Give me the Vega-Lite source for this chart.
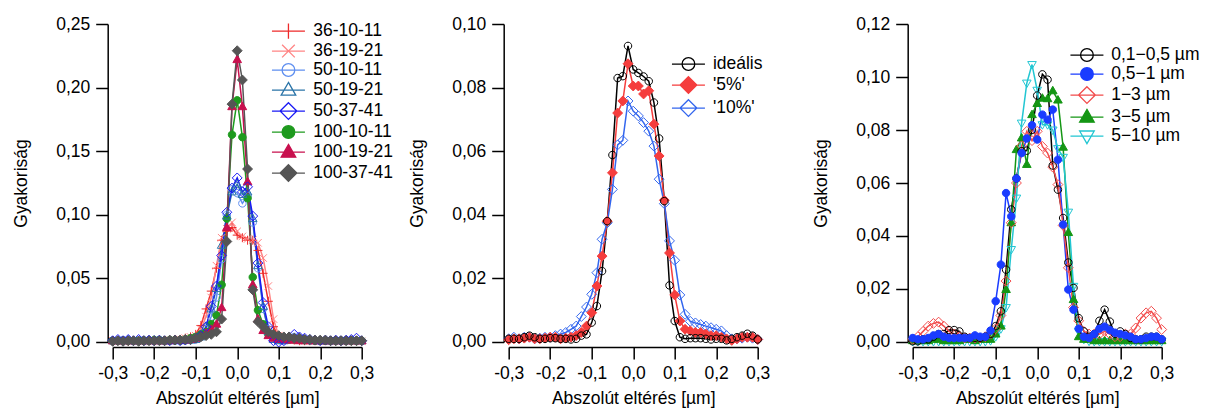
{
"$schema":"https://vega.github.io/schema/vega-lite/v6.json",
"padding":{"left":11.7,"top":15,"right":4,"bottom":2},
"config":{
 "font":"Liberation Sans",
 "view":{"stroke":null},
 "axis":{"grid":false,"domainColor":"#000","domainWidth":1.5,"tickColor":"#000","tickWidth":1.5,"tickSize":12,"labelColor":"#000","labelFontSize":17.5,"labelFont":"Liberation Sans","titleFont":"Liberation Sans","titleFontSize":17.5,"titleFontWeight":"normal","titleColor":"#000","offset":5,"labelFlush":false,"labelOverlap":false},
 "axisX":{"labelPadding":6,"titlePadding":7},
 "axisY":{"labelPadding":6,"titlePadding":25.3},
 "legend":{"labelFont":"Liberation Sans","labelFontSize":17.5,"labelColor":"#000","padding":0,"rowPadding":0,"symbolSize":161,"symbolStrokeWidth":1.3,"symbolOpacity":1}
},
"datasets":{
"p1":[
{"s":"36-10-11","x":-0.3,"y":0.0005},{"s":"36-10-11","x":-0.2875,"y":0.001},{"s":"36-10-11","x":-0.275,"y":0.001},{"s":"36-10-11","x":-0.2625,"y":0.0005},{"s":"36-10-11","x":-0.25,"y":0.001},{"s":"36-10-11","x":-0.2375,"y":0.001},{"s":"36-10-11","x":-0.225,"y":0.001},{"s":"36-10-11","x":-0.2125,"y":0.001},{"s":"36-10-11","x":-0.2,"y":0.001},{"s":"36-10-11","x":-0.1875,"y":0.0015},{"s":"36-10-11","x":-0.175,"y":0.001},{"s":"36-10-11","x":-0.1625,"y":0.0015},{"s":"36-10-11","x":-0.15,"y":0.002},{"s":"36-10-11","x":-0.1375,"y":0.002},{"s":"36-10-11","x":-0.125,"y":0.003},{"s":"36-10-11","x":-0.1125,"y":0.004},{"s":"36-10-11","x":-0.1,"y":0.006},{"s":"36-10-11","x":-0.0875,"y":0.013},{"s":"36-10-11","x":-0.075,"y":0.026},{"s":"36-10-11","x":-0.0625,"y":0.04},{"s":"36-10-11","x":-0.05,"y":0.058},{"s":"36-10-11","x":-0.0375,"y":0.08},{"s":"36-10-11","x":-0.025,"y":0.087},{"s":"36-10-11","x":-0.0125,"y":0.09},{"s":"36-10-11","x":0,"y":0.084},{"s":"36-10-11","x":0.0125,"y":0.082},{"s":"36-10-11","x":0.025,"y":0.08},{"s":"36-10-11","x":0.0375,"y":0.08},{"s":"36-10-11","x":0.05,"y":0.072},{"s":"36-10-11","x":0.0625,"y":0.054},{"s":"36-10-11","x":0.075,"y":0.032},{"s":"36-10-11","x":0.0875,"y":0.012},{"s":"36-10-11","x":0.1,"y":0.004},{"s":"36-10-11","x":0.1125,"y":0.002},{"s":"36-10-11","x":0.125,"y":0.002},{"s":"36-10-11","x":0.1375,"y":0.0015},{"s":"36-10-11","x":0.15,"y":0.001},{"s":"36-10-11","x":0.1625,"y":0.001},{"s":"36-10-11","x":0.175,"y":0.001},{"s":"36-10-11","x":0.1875,"y":0.001},{"s":"36-10-11","x":0.2,"y":0.001},{"s":"36-10-11","x":0.2125,"y":0.001},{"s":"36-10-11","x":0.225,"y":0.001},{"s":"36-10-11","x":0.2375,"y":0.001},{"s":"36-10-11","x":0.25,"y":0.001},{"s":"36-10-11","x":0.2625,"y":0.001},{"s":"36-10-11","x":0.275,"y":0.001},{"s":"36-10-11","x":0.2875,"y":0.001},{"s":"36-10-11","x":0.3,"y":0.0005},
{"s":"36-19-21","x":-0.3,"y":0.001},{"s":"36-19-21","x":-0.2875,"y":0.0005},{"s":"36-19-21","x":-0.275,"y":0.001},{"s":"36-19-21","x":-0.2625,"y":0.001},{"s":"36-19-21","x":-0.25,"y":0.0015},{"s":"36-19-21","x":-0.2375,"y":0.001},{"s":"36-19-21","x":-0.225,"y":0.001},{"s":"36-19-21","x":-0.2125,"y":0.001},{"s":"36-19-21","x":-0.2,"y":0.0015},{"s":"36-19-21","x":-0.1875,"y":0.001},{"s":"36-19-21","x":-0.175,"y":0.001},{"s":"36-19-21","x":-0.1625,"y":0.0015},{"s":"36-19-21","x":-0.15,"y":0.0015},{"s":"36-19-21","x":-0.1375,"y":0.002},{"s":"36-19-21","x":-0.125,"y":0.003},{"s":"36-19-21","x":-0.1125,"y":0.004},{"s":"36-19-21","x":-0.1,"y":0.005},{"s":"36-19-21","x":-0.0875,"y":0.01},{"s":"36-19-21","x":-0.075,"y":0.02},{"s":"36-19-21","x":-0.0625,"y":0.035},{"s":"36-19-21","x":-0.05,"y":0.06},{"s":"36-19-21","x":-0.0375,"y":0.082},{"s":"36-19-21","x":-0.025,"y":0.089},{"s":"36-19-21","x":-0.0125,"y":0.094},{"s":"36-19-21","x":0,"y":0.087},{"s":"36-19-21","x":0.0125,"y":0.083},{"s":"36-19-21","x":0.025,"y":0.081},{"s":"36-19-21","x":0.0375,"y":0.08},{"s":"36-19-21","x":0.05,"y":0.078},{"s":"36-19-21","x":0.0625,"y":0.066},{"s":"36-19-21","x":0.075,"y":0.044},{"s":"36-19-21","x":0.0875,"y":0.018},{"s":"36-19-21","x":0.1,"y":0.005},{"s":"36-19-21","x":0.1125,"y":0.003},{"s":"36-19-21","x":0.125,"y":0.002},{"s":"36-19-21","x":0.1375,"y":0.0015},{"s":"36-19-21","x":0.15,"y":0.0015},{"s":"36-19-21","x":0.1625,"y":0.001},{"s":"36-19-21","x":0.175,"y":0.001},{"s":"36-19-21","x":0.1875,"y":0.001},{"s":"36-19-21","x":0.2,"y":0.001},{"s":"36-19-21","x":0.2125,"y":0.001},{"s":"36-19-21","x":0.225,"y":0.001},{"s":"36-19-21","x":0.2375,"y":0.001},{"s":"36-19-21","x":0.25,"y":0.001},{"s":"36-19-21","x":0.2625,"y":0.001},{"s":"36-19-21","x":0.275,"y":0.001},{"s":"36-19-21","x":0.2875,"y":0.001},{"s":"36-19-21","x":0.3,"y":0.0005},
{"s":"50-10-11","x":-0.3,"y":0.001},{"s":"50-10-11","x":-0.2875,"y":0.001},{"s":"50-10-11","x":-0.275,"y":0.0015},{"s":"50-10-11","x":-0.2625,"y":0.001},{"s":"50-10-11","x":-0.25,"y":0.001},{"s":"50-10-11","x":-0.2375,"y":0.001},{"s":"50-10-11","x":-0.225,"y":0.0015},{"s":"50-10-11","x":-0.2125,"y":0.001},{"s":"50-10-11","x":-0.2,"y":0.001},{"s":"50-10-11","x":-0.1875,"y":0.001},{"s":"50-10-11","x":-0.175,"y":0.001},{"s":"50-10-11","x":-0.1625,"y":0.001},{"s":"50-10-11","x":-0.15,"y":0.001},{"s":"50-10-11","x":-0.1375,"y":0.0015},{"s":"50-10-11","x":-0.125,"y":0.0015},{"s":"50-10-11","x":-0.1125,"y":0.0015},{"s":"50-10-11","x":-0.1,"y":0.002},{"s":"50-10-11","x":-0.0875,"y":0.004},{"s":"50-10-11","x":-0.075,"y":0.01},{"s":"50-10-11","x":-0.0625,"y":0.02},{"s":"50-10-11","x":-0.05,"y":0.035},{"s":"50-10-11","x":-0.0375,"y":0.065},{"s":"50-10-11","x":-0.025,"y":0.1},{"s":"50-10-11","x":-0.0125,"y":0.12},{"s":"50-10-11","x":0,"y":0.117},{"s":"50-10-11","x":0.0125,"y":0.109},{"s":"50-10-11","x":0.025,"y":0.115},{"s":"50-10-11","x":0.0375,"y":0.094},{"s":"50-10-11","x":0.05,"y":0.058},{"s":"50-10-11","x":0.0625,"y":0.026},{"s":"50-10-11","x":0.075,"y":0.01},{"s":"50-10-11","x":0.0875,"y":0.003},{"s":"50-10-11","x":0.1,"y":0.002},{"s":"50-10-11","x":0.1125,"y":0.0015},{"s":"50-10-11","x":0.125,"y":0.002},{"s":"50-10-11","x":0.1375,"y":0.004},{"s":"50-10-11","x":0.15,"y":0.003},{"s":"50-10-11","x":0.1625,"y":0.002},{"s":"50-10-11","x":0.175,"y":0.0015},{"s":"50-10-11","x":0.1875,"y":0.001},{"s":"50-10-11","x":0.2,"y":0.001},{"s":"50-10-11","x":0.2125,"y":0.001},{"s":"50-10-11","x":0.225,"y":0.001},{"s":"50-10-11","x":0.2375,"y":0.001},{"s":"50-10-11","x":0.25,"y":0.001},{"s":"50-10-11","x":0.2625,"y":0.001},{"s":"50-10-11","x":0.275,"y":0.0015},{"s":"50-10-11","x":0.2875,"y":0.001},{"s":"50-10-11","x":0.3,"y":0.001},
{"s":"50-19-21","x":-0.3,"y":0.001},{"s":"50-19-21","x":-0.2875,"y":0.001},{"s":"50-19-21","x":-0.275,"y":0.001},{"s":"50-19-21","x":-0.2625,"y":0.0015},{"s":"50-19-21","x":-0.25,"y":0.001},{"s":"50-19-21","x":-0.2375,"y":0.001},{"s":"50-19-21","x":-0.225,"y":0.001},{"s":"50-19-21","x":-0.2125,"y":0.001},{"s":"50-19-21","x":-0.2,"y":0.0015},{"s":"50-19-21","x":-0.1875,"y":0.001},{"s":"50-19-21","x":-0.175,"y":0.001},{"s":"50-19-21","x":-0.1625,"y":0.001},{"s":"50-19-21","x":-0.15,"y":0.0015},{"s":"50-19-21","x":-0.1375,"y":0.001},{"s":"50-19-21","x":-0.125,"y":0.0015},{"s":"50-19-21","x":-0.1125,"y":0.0015},{"s":"50-19-21","x":-0.1,"y":0.002},{"s":"50-19-21","x":-0.0875,"y":0.004},{"s":"50-19-21","x":-0.075,"y":0.012},{"s":"50-19-21","x":-0.0625,"y":0.026},{"s":"50-19-21","x":-0.05,"y":0.042},{"s":"50-19-21","x":-0.0375,"y":0.076},{"s":"50-19-21","x":-0.025,"y":0.099},{"s":"50-19-21","x":-0.0125,"y":0.118},{"s":"50-19-21","x":0,"y":0.124},{"s":"50-19-21","x":0.0125,"y":0.116},{"s":"50-19-21","x":0.025,"y":0.118},{"s":"50-19-21","x":0.0375,"y":0.097},{"s":"50-19-21","x":0.05,"y":0.06},{"s":"50-19-21","x":0.0625,"y":0.028},{"s":"50-19-21","x":0.075,"y":0.008},{"s":"50-19-21","x":0.0875,"y":0.002},{"s":"50-19-21","x":0.1,"y":0.001},{"s":"50-19-21","x":0.1125,"y":0.001},{"s":"50-19-21","x":0.125,"y":0.002},{"s":"50-19-21","x":0.1375,"y":0.003},{"s":"50-19-21","x":0.15,"y":0.003},{"s":"50-19-21","x":0.1625,"y":0.002},{"s":"50-19-21","x":0.175,"y":0.0015},{"s":"50-19-21","x":0.1875,"y":0.001},{"s":"50-19-21","x":0.2,"y":0.001},{"s":"50-19-21","x":0.2125,"y":0.001},{"s":"50-19-21","x":0.225,"y":0.001},{"s":"50-19-21","x":0.2375,"y":0.001},{"s":"50-19-21","x":0.25,"y":0.001},{"s":"50-19-21","x":0.2625,"y":0.001},{"s":"50-19-21","x":0.275,"y":0.001},{"s":"50-19-21","x":0.2875,"y":0.001},{"s":"50-19-21","x":0.3,"y":0.001},
{"s":"50-37-41","x":-0.3,"y":0.001},{"s":"50-37-41","x":-0.2875,"y":0.002},{"s":"50-37-41","x":-0.275,"y":0.001},{"s":"50-37-41","x":-0.2625,"y":0.002},{"s":"50-37-41","x":-0.25,"y":0.001},{"s":"50-37-41","x":-0.2375,"y":0.002},{"s":"50-37-41","x":-0.225,"y":0.001},{"s":"50-37-41","x":-0.2125,"y":0.0015},{"s":"50-37-41","x":-0.2,"y":0.001},{"s":"50-37-41","x":-0.1875,"y":0.0015},{"s":"50-37-41","x":-0.175,"y":0.001},{"s":"50-37-41","x":-0.1625,"y":0.001},{"s":"50-37-41","x":-0.15,"y":0.0015},{"s":"50-37-41","x":-0.1375,"y":0.001},{"s":"50-37-41","x":-0.125,"y":0.0015},{"s":"50-37-41","x":-0.1125,"y":0.002},{"s":"50-37-41","x":-0.1,"y":0.003},{"s":"50-37-41","x":-0.0875,"y":0.005},{"s":"50-37-41","x":-0.075,"y":0.012},{"s":"50-37-41","x":-0.0625,"y":0.028},{"s":"50-37-41","x":-0.05,"y":0.044},{"s":"50-37-41","x":-0.0375,"y":0.068},{"s":"50-37-41","x":-0.025,"y":0.102},{"s":"50-37-41","x":-0.0125,"y":0.121},{"s":"50-37-41","x":0,"y":0.129},{"s":"50-37-41","x":0.0125,"y":0.118},{"s":"50-37-41","x":0.025,"y":0.122},{"s":"50-37-41","x":0.0375,"y":0.099},{"s":"50-37-41","x":0.05,"y":0.062},{"s":"50-37-41","x":0.0625,"y":0.031},{"s":"50-37-41","x":0.075,"y":0.012},{"s":"50-37-41","x":0.0875,"y":0.001},{"s":"50-37-41","x":0.1,"y":0},{"s":"50-37-41","x":0.1125,"y":0.001},{"s":"50-37-41","x":0.125,"y":0.004},{"s":"50-37-41","x":0.1375,"y":0.006},{"s":"50-37-41","x":0.15,"y":0.004},{"s":"50-37-41","x":0.1625,"y":0.003},{"s":"50-37-41","x":0.175,"y":0.002},{"s":"50-37-41","x":0.1875,"y":0.0015},{"s":"50-37-41","x":0.2,"y":0.001},{"s":"50-37-41","x":0.2125,"y":0.0015},{"s":"50-37-41","x":0.225,"y":0.001},{"s":"50-37-41","x":0.2375,"y":0.0015},{"s":"50-37-41","x":0.25,"y":0.001},{"s":"50-37-41","x":0.2625,"y":0.0015},{"s":"50-37-41","x":0.275,"y":0.002},{"s":"50-37-41","x":0.2875,"y":0.003},{"s":"50-37-41","x":0.3,"y":0.001},
{"s":"100-10-11","x":-0.3,"y":0.001},{"s":"100-10-11","x":-0.2875,"y":0.001},{"s":"100-10-11","x":-0.275,"y":0.001},{"s":"100-10-11","x":-0.2625,"y":0.001},{"s":"100-10-11","x":-0.25,"y":0.001},{"s":"100-10-11","x":-0.2375,"y":0.001},{"s":"100-10-11","x":-0.225,"y":0.001},{"s":"100-10-11","x":-0.2125,"y":0.001},{"s":"100-10-11","x":-0.2,"y":0.0015},{"s":"100-10-11","x":-0.1875,"y":0.0015},{"s":"100-10-11","x":-0.175,"y":0.001},{"s":"100-10-11","x":-0.1625,"y":0.0015},{"s":"100-10-11","x":-0.15,"y":0.0015},{"s":"100-10-11","x":-0.1375,"y":0.0015},{"s":"100-10-11","x":-0.125,"y":0.002},{"s":"100-10-11","x":-0.1125,"y":0.003},{"s":"100-10-11","x":-0.1,"y":0.004},{"s":"100-10-11","x":-0.0875,"y":0.006},{"s":"100-10-11","x":-0.075,"y":0.008},{"s":"100-10-11","x":-0.0625,"y":0.014},{"s":"100-10-11","x":-0.05,"y":0.021},{"s":"100-10-11","x":-0.0375,"y":0.045},{"s":"100-10-11","x":-0.025,"y":0.097},{"s":"100-10-11","x":-0.0125,"y":0.163},{"s":"100-10-11","x":0,"y":0.19},{"s":"100-10-11","x":0.0125,"y":0.161},{"s":"100-10-11","x":0.025,"y":0.113},{"s":"100-10-11","x":0.0375,"y":0.051},{"s":"100-10-11","x":0.05,"y":0.025},{"s":"100-10-11","x":0.0625,"y":0.014},{"s":"100-10-11","x":0.075,"y":0.006},{"s":"100-10-11","x":0.0875,"y":0.004},{"s":"100-10-11","x":0.1,"y":0.004},{"s":"100-10-11","x":0.1125,"y":0.003},{"s":"100-10-11","x":0.125,"y":0.002},{"s":"100-10-11","x":0.1375,"y":0.002},{"s":"100-10-11","x":0.15,"y":0.002},{"s":"100-10-11","x":0.1625,"y":0.0015},{"s":"100-10-11","x":0.175,"y":0.0015},{"s":"100-10-11","x":0.1875,"y":0.001},{"s":"100-10-11","x":0.2,"y":0.001},{"s":"100-10-11","x":0.2125,"y":0.001},{"s":"100-10-11","x":0.225,"y":0.001},{"s":"100-10-11","x":0.2375,"y":0.001},{"s":"100-10-11","x":0.25,"y":0.001},{"s":"100-10-11","x":0.2625,"y":0.001},{"s":"100-10-11","x":0.275,"y":0.001},{"s":"100-10-11","x":0.2875,"y":0.001},{"s":"100-10-11","x":0.3,"y":0.001},
{"s":"100-19-21","x":-0.3,"y":0.001},{"s":"100-19-21","x":-0.2875,"y":0.001},{"s":"100-19-21","x":-0.275,"y":0.001},{"s":"100-19-21","x":-0.2625,"y":0.001},{"s":"100-19-21","x":-0.25,"y":0.001},{"s":"100-19-21","x":-0.2375,"y":0.001},{"s":"100-19-21","x":-0.225,"y":0.001},{"s":"100-19-21","x":-0.2125,"y":0.001},{"s":"100-19-21","x":-0.2,"y":0.001},{"s":"100-19-21","x":-0.1875,"y":0.001},{"s":"100-19-21","x":-0.175,"y":0.001},{"s":"100-19-21","x":-0.1625,"y":0.001},{"s":"100-19-21","x":-0.15,"y":0.0015},{"s":"100-19-21","x":-0.1375,"y":0.0015},{"s":"100-19-21","x":-0.125,"y":0.0015},{"s":"100-19-21","x":-0.1125,"y":0.002},{"s":"100-19-21","x":-0.1,"y":0.003},{"s":"100-19-21","x":-0.0875,"y":0.005},{"s":"100-19-21","x":-0.075,"y":0.007},{"s":"100-19-21","x":-0.0625,"y":0.01},{"s":"100-19-21","x":-0.05,"y":0.014},{"s":"100-19-21","x":-0.0375,"y":0.027},{"s":"100-19-21","x":-0.025,"y":0.09},{"s":"100-19-21","x":-0.0125,"y":0.185},{"s":"100-19-21","x":0,"y":0.222},{"s":"100-19-21","x":0.0125,"y":0.185},{"s":"100-19-21","x":0.025,"y":0.126},{"s":"100-19-21","x":0.0375,"y":0.045},{"s":"100-19-21","x":0.05,"y":0.018},{"s":"100-19-21","x":0.0625,"y":0.009},{"s":"100-19-21","x":0.075,"y":0.005},{"s":"100-19-21","x":0.0875,"y":0.003},{"s":"100-19-21","x":0.1,"y":0.002},{"s":"100-19-21","x":0.1125,"y":0.002},{"s":"100-19-21","x":0.125,"y":0.0015},{"s":"100-19-21","x":0.1375,"y":0.0015},{"s":"100-19-21","x":0.15,"y":0.001},{"s":"100-19-21","x":0.1625,"y":0.001},{"s":"100-19-21","x":0.175,"y":0.001},{"s":"100-19-21","x":0.1875,"y":0.001},{"s":"100-19-21","x":0.2,"y":0.001},{"s":"100-19-21","x":0.2125,"y":0.001},{"s":"100-19-21","x":0.225,"y":0.001},{"s":"100-19-21","x":0.2375,"y":0.001},{"s":"100-19-21","x":0.25,"y":0.001},{"s":"100-19-21","x":0.2625,"y":0.001},{"s":"100-19-21","x":0.275,"y":0.001},{"s":"100-19-21","x":0.2875,"y":0.001},{"s":"100-19-21","x":0.3,"y":0.001},
{"s":"100-37-41","x":-0.3,"y":0.0005},{"s":"100-37-41","x":-0.2875,"y":0.001},{"s":"100-37-41","x":-0.275,"y":0.0005},{"s":"100-37-41","x":-0.2625,"y":0.001},{"s":"100-37-41","x":-0.25,"y":0.001},{"s":"100-37-41","x":-0.2375,"y":0.0005},{"s":"100-37-41","x":-0.225,"y":0.001},{"s":"100-37-41","x":-0.2125,"y":0.001},{"s":"100-37-41","x":-0.2,"y":0.001},{"s":"100-37-41","x":-0.1875,"y":0.001},{"s":"100-37-41","x":-0.175,"y":0.001},{"s":"100-37-41","x":-0.1625,"y":0.0015},{"s":"100-37-41","x":-0.15,"y":0.0015},{"s":"100-37-41","x":-0.1375,"y":0.0015},{"s":"100-37-41","x":-0.125,"y":0.002},{"s":"100-37-41","x":-0.1125,"y":0.002},{"s":"100-37-41","x":-0.1,"y":0.003},{"s":"100-37-41","x":-0.0875,"y":0.004},{"s":"100-37-41","x":-0.075,"y":0.005},{"s":"100-37-41","x":-0.0625,"y":0.006},{"s":"100-37-41","x":-0.05,"y":0.008},{"s":"100-37-41","x":-0.0375,"y":0.018},{"s":"100-37-41","x":-0.025,"y":0.079},{"s":"100-37-41","x":-0.0125,"y":0.187},{"s":"100-37-41","x":0,"y":0.229},{"s":"100-37-41","x":0.0125,"y":0.206},{"s":"100-37-41","x":0.025,"y":0.136},{"s":"100-37-41","x":0.0375,"y":0.041},{"s":"100-37-41","x":0.05,"y":0.016},{"s":"100-37-41","x":0.0625,"y":0.012},{"s":"100-37-41","x":0.075,"y":0.008},{"s":"100-37-41","x":0.0875,"y":0.006},{"s":"100-37-41","x":0.1,"y":0.005},{"s":"100-37-41","x":0.1125,"y":0.004},{"s":"100-37-41","x":0.125,"y":0.004},{"s":"100-37-41","x":0.1375,"y":0.003},{"s":"100-37-41","x":0.15,"y":0.003},{"s":"100-37-41","x":0.1625,"y":0.002},{"s":"100-37-41","x":0.175,"y":0.002},{"s":"100-37-41","x":0.1875,"y":0.0015},{"s":"100-37-41","x":0.2,"y":0.0015},{"s":"100-37-41","x":0.2125,"y":0.0015},{"s":"100-37-41","x":0.225,"y":0.001},{"s":"100-37-41","x":0.2375,"y":0.001},{"s":"100-37-41","x":0.25,"y":0.001},{"s":"100-37-41","x":0.2625,"y":0.001},{"s":"100-37-41","x":0.275,"y":0.001},{"s":"100-37-41","x":0.2875,"y":0.001},{"s":"100-37-41","x":0.3,"y":0.001}
],
"p2":[
{"s":"ideális","x":-0.3,"y":0.001},{"s":"ideális","x":-0.2875,"y":0.001},{"s":"ideális","x":-0.275,"y":0.001},{"s":"ideális","x":-0.2625,"y":0.0015},{"s":"ideális","x":-0.25,"y":0.002},{"s":"ideális","x":-0.2375,"y":0.0015},{"s":"ideális","x":-0.225,"y":0.001},{"s":"ideális","x":-0.2125,"y":0.001},{"s":"ideális","x":-0.2,"y":0.0012},{"s":"ideális","x":-0.1875,"y":0.0012},{"s":"ideális","x":-0.175,"y":0.001},{"s":"ideális","x":-0.1625,"y":0.001},{"s":"ideális","x":-0.15,"y":0.0008},{"s":"ideális","x":-0.1375,"y":0.001},{"s":"ideális","x":-0.125,"y":0.002},{"s":"ideális","x":-0.1125,"y":0.0024},{"s":"ideális","x":-0.1,"y":0.0061},{"s":"ideális","x":-0.0875,"y":0.0113},{"s":"ideális","x":-0.075,"y":0.0223},{"s":"ideális","x":-0.0625,"y":0.038},{"s":"ideális","x":-0.05,"y":0.0588},{"s":"ideális","x":-0.0375,"y":0.083},{"s":"ideális","x":-0.025,"y":0.0836},{"s":"ideális","x":-0.0125,"y":0.0931},{"s":"ideális","x":0,"y":0.0857},{"s":"ideális","x":0.0125,"y":0.0846},{"s":"ideális","x":0.025,"y":0.0835},{"s":"ideális","x":0.0375,"y":0.082},{"s":"ideális","x":0.05,"y":0.0753},{"s":"ideális","x":0.0625,"y":0.064},{"s":"ideális","x":0.075,"y":0.0443},{"s":"ideális","x":0.0875,"y":0.0178},{"s":"ideális","x":0.1,"y":0.0066},{"s":"ideális","x":0.1125,"y":0.0015},{"s":"ideális","x":0.125,"y":0.001},{"s":"ideális","x":0.1375,"y":0.0012},{"s":"ideális","x":0.15,"y":0.0012},{"s":"ideális","x":0.1625,"y":0.0012},{"s":"ideális","x":0.175,"y":0.001},{"s":"ideális","x":0.1875,"y":0.0008},{"s":"ideális","x":0.2,"y":0.001},{"s":"ideális","x":0.2125,"y":0.001},{"s":"ideális","x":0.225,"y":0.0005},{"s":"ideális","x":0.2375,"y":0.001},{"s":"ideális","x":0.25,"y":0.0015},{"s":"ideális","x":0.2625,"y":0.002},{"s":"ideális","x":0.275,"y":0.0026},{"s":"ideális","x":0.2875,"y":0.002},{"s":"ideális","x":0.3,"y":0.0008},
{"s":"'5%'","x":-0.3,"y":0.0007},{"s":"'5%'","x":-0.2875,"y":0.001},{"s":"'5%'","x":-0.275,"y":0.001},{"s":"'5%'","x":-0.2625,"y":0.0012},{"s":"'5%'","x":-0.25,"y":0.0015},{"s":"'5%'","x":-0.2375,"y":0.001},{"s":"'5%'","x":-0.225,"y":0.001},{"s":"'5%'","x":-0.2125,"y":0.0012},{"s":"'5%'","x":-0.2,"y":0.0015},{"s":"'5%'","x":-0.1875,"y":0.0015},{"s":"'5%'","x":-0.175,"y":0.001},{"s":"'5%'","x":-0.1625,"y":0.0012},{"s":"'5%'","x":-0.15,"y":0.0015},{"s":"'5%'","x":-0.1375,"y":0.002},{"s":"'5%'","x":-0.125,"y":0.003},{"s":"'5%'","x":-0.1125,"y":0.005},{"s":"'5%'","x":-0.1,"y":0.0092},{"s":"'5%'","x":-0.0875,"y":0.0176},{"s":"'5%'","x":-0.075,"y":0.027},{"s":"'5%'","x":-0.0625,"y":0.038},{"s":"'5%'","x":-0.05,"y":0.0532},{"s":"'5%'","x":-0.0375,"y":0.072},{"s":"'5%'","x":-0.025,"y":0.0758},{"s":"'5%'","x":-0.0125,"y":0.0875},{"s":"'5%'","x":0,"y":0.0805},{"s":"'5%'","x":0.0125,"y":0.0805},{"s":"'5%'","x":0.025,"y":0.078},{"s":"'5%'","x":0.0375,"y":0.079},{"s":"'5%'","x":0.05,"y":0.0685},{"s":"'5%'","x":0.0625,"y":0.0585},{"s":"'5%'","x":0.075,"y":0.0446},{"s":"'5%'","x":0.0875,"y":0.028},{"s":"'5%'","x":0.1,"y":0.0148},{"s":"'5%'","x":0.1125,"y":0.0066},{"s":"'5%'","x":0.125,"y":0.004},{"s":"'5%'","x":0.1375,"y":0.0035},{"s":"'5%'","x":0.15,"y":0.003},{"s":"'5%'","x":0.1625,"y":0.003},{"s":"'5%'","x":0.175,"y":0.0025},{"s":"'5%'","x":0.1875,"y":0.002},{"s":"'5%'","x":0.2,"y":0.002},{"s":"'5%'","x":0.2125,"y":0.0015},{"s":"'5%'","x":0.225,"y":0.001},{"s":"'5%'","x":0.2375,"y":0.0005},{"s":"'5%'","x":0.25,"y":0.001},{"s":"'5%'","x":0.2625,"y":0.0015},{"s":"'5%'","x":0.275,"y":0.0015},{"s":"'5%'","x":0.2875,"y":0.0015},{"s":"'5%'","x":0.3,"y":0.0008},
{"s":"'10%'","x":-0.3,"y":0.001},{"s":"'10%'","x":-0.2875,"y":0.0015},{"s":"'10%'","x":-0.275,"y":0.001},{"s":"'10%'","x":-0.2625,"y":0.0015},{"s":"'10%'","x":-0.25,"y":0.0015},{"s":"'10%'","x":-0.2375,"y":0.001},{"s":"'10%'","x":-0.225,"y":0.0012},{"s":"'10%'","x":-0.2125,"y":0.0015},{"s":"'10%'","x":-0.2,"y":0.0015},{"s":"'10%'","x":-0.1875,"y":0.002},{"s":"'10%'","x":-0.175,"y":0.0025},{"s":"'10%'","x":-0.1625,"y":0.003},{"s":"'10%'","x":-0.15,"y":0.004},{"s":"'10%'","x":-0.1375,"y":0.005},{"s":"'10%'","x":-0.125,"y":0.008},{"s":"'10%'","x":-0.1125,"y":0.011},{"s":"'10%'","x":-0.1,"y":0.015},{"s":"'10%'","x":-0.0875,"y":0.0218},{"s":"'10%'","x":-0.075,"y":0.0323},{"s":"'10%'","x":-0.0625,"y":0.0375},{"s":"'10%'","x":-0.05,"y":0.048},{"s":"'10%'","x":-0.0375,"y":0.062},{"s":"'10%'","x":-0.025,"y":0.0634},{"s":"'10%'","x":-0.0125,"y":0.0758},{"s":"'10%'","x":0,"y":0.0726},{"s":"'10%'","x":0.0125,"y":0.0711},{"s":"'10%'","x":0.025,"y":0.069},{"s":"'10%'","x":0.0375,"y":0.0663},{"s":"'10%'","x":0.05,"y":0.0616},{"s":"'10%'","x":0.0625,"y":0.0512},{"s":"'10%'","x":0.075,"y":0.0435},{"s":"'10%'","x":0.0875,"y":0.0318},{"s":"'10%'","x":0.1,"y":0.0257},{"s":"'10%'","x":0.1125,"y":0.0148},{"s":"'10%'","x":0.125,"y":0.0087},{"s":"'10%'","x":0.1375,"y":0.0065},{"s":"'10%'","x":0.15,"y":0.006},{"s":"'10%'","x":0.1625,"y":0.0055},{"s":"'10%'","x":0.175,"y":0.005},{"s":"'10%'","x":0.1875,"y":0.0045},{"s":"'10%'","x":0.2,"y":0.004},{"s":"'10%'","x":0.2125,"y":0.0035},{"s":"'10%'","x":0.225,"y":0.002},{"s":"'10%'","x":0.2375,"y":0.001},{"s":"'10%'","x":0.25,"y":0.001},{"s":"'10%'","x":0.2625,"y":0.0012},{"s":"'10%'","x":0.275,"y":0.0015},{"s":"'10%'","x":0.2875,"y":0.0012},{"s":"'10%'","x":0.3,"y":0.0008}
],
"p3":[
{"s":"0,1−0,5 µm","x":-0.3,"y":0.0003},{"s":"0,1−0,5 µm","x":-0.2875,"y":0.0003},{"s":"0,1−0,5 µm","x":-0.275,"y":0.001},{"s":"0,1−0,5 µm","x":-0.2625,"y":0.001},{"s":"0,1−0,5 µm","x":-0.25,"y":0.002},{"s":"0,1−0,5 µm","x":-0.2375,"y":0.003},{"s":"0,1−0,5 µm","x":-0.225,"y":0.003},{"s":"0,1−0,5 µm","x":-0.2125,"y":0.0045},{"s":"0,1−0,5 µm","x":-0.2,"y":0.0045},{"s":"0,1−0,5 µm","x":-0.1875,"y":0.004},{"s":"0,1−0,5 µm","x":-0.175,"y":0.002},{"s":"0,1−0,5 µm","x":-0.1625,"y":0.0015},{"s":"0,1−0,5 µm","x":-0.15,"y":0.0015},{"s":"0,1−0,5 µm","x":-0.1375,"y":0.0015},{"s":"0,1−0,5 µm","x":-0.125,"y":0.002},{"s":"0,1−0,5 µm","x":-0.1125,"y":0.003},{"s":"0,1−0,5 µm","x":-0.1,"y":0.006},{"s":"0,1−0,5 µm","x":-0.0875,"y":0.0116},{"s":"0,1−0,5 µm","x":-0.075,"y":0.0273},{"s":"0,1−0,5 µm","x":-0.0625,"y":0.05},{"s":"0,1−0,5 µm","x":-0.05,"y":0.0617},{"s":"0,1−0,5 µm","x":-0.0375,"y":0.072},{"s":"0,1−0,5 µm","x":-0.025,"y":0.0722},{"s":"0,1−0,5 µm","x":-0.0125,"y":0.08},{"s":"0,1−0,5 µm","x":0,"y":0.093},{"s":"0,1−0,5 µm","x":0.0125,"y":0.101},{"s":"0,1−0,5 µm","x":0.025,"y":0.099},{"s":"0,1−0,5 µm","x":0.0375,"y":0.0666},{"s":"0,1−0,5 µm","x":0.05,"y":0.0575},{"s":"0,1−0,5 µm","x":0.0625,"y":0.0468},{"s":"0,1−0,5 µm","x":0.075,"y":0.03},{"s":"0,1−0,5 µm","x":0.0875,"y":0.0204},{"s":"0,1−0,5 µm","x":0.1,"y":0.009},{"s":"0,1−0,5 µm","x":0.1125,"y":0.004},{"s":"0,1−0,5 µm","x":0.125,"y":0.002},{"s":"0,1−0,5 µm","x":0.1375,"y":0.003},{"s":"0,1−0,5 µm","x":0.15,"y":0.008},{"s":"0,1−0,5 µm","x":0.1625,"y":0.0122},{"s":"0,1−0,5 µm","x":0.175,"y":0.0077},{"s":"0,1−0,5 µm","x":0.1875,"y":0.003},{"s":"0,1−0,5 µm","x":0.2,"y":0.004},{"s":"0,1−0,5 µm","x":0.2125,"y":0.003},{"s":"0,1−0,5 µm","x":0.225,"y":0.0015},{"s":"0,1−0,5 µm","x":0.2375,"y":0.001},{"s":"0,1−0,5 µm","x":0.25,"y":0.001},{"s":"0,1−0,5 µm","x":0.2625,"y":0.002},{"s":"0,1−0,5 µm","x":0.275,"y":0.002},{"s":"0,1−0,5 µm","x":0.2875,"y":0.002},{"s":"0,1−0,5 µm","x":0.3,"y":0.001},
{"s":"0,5−1 µm","x":-0.3,"y":0.0015},{"s":"0,5−1 µm","x":-0.2875,"y":0.001},{"s":"0,5−1 µm","x":-0.275,"y":0.001},{"s":"0,5−1 µm","x":-0.2625,"y":0.0015},{"s":"0,5−1 µm","x":-0.25,"y":0.0025},{"s":"0,5−1 µm","x":-0.2375,"y":0.003},{"s":"0,5−1 µm","x":-0.225,"y":0.002},{"s":"0,5−1 µm","x":-0.2125,"y":0.0015},{"s":"0,5−1 µm","x":-0.2,"y":0.0015},{"s":"0,5−1 µm","x":-0.1875,"y":0.0015},{"s":"0,5−1 µm","x":-0.175,"y":0.0015},{"s":"0,5−1 µm","x":-0.1625,"y":0.0015},{"s":"0,5−1 µm","x":-0.15,"y":0.0025},{"s":"0,5−1 µm","x":-0.1375,"y":0.002},{"s":"0,5−1 µm","x":-0.125,"y":0.002},{"s":"0,5−1 µm","x":-0.1125,"y":0.0043},{"s":"0,5−1 µm","x":-0.1,"y":0.0154},{"s":"0,5−1 µm","x":-0.0875,"y":0.0292},{"s":"0,5−1 µm","x":-0.075,"y":0.0562},{"s":"0,5−1 µm","x":-0.0625,"y":0.0474},{"s":"0,5−1 µm","x":-0.05,"y":0.0617},{"s":"0,5−1 µm","x":-0.0375,"y":0.0713},{"s":"0,5−1 µm","x":-0.025,"y":0.0768},{"s":"0,5−1 µm","x":-0.0125,"y":0.0818},{"s":"0,5−1 µm","x":0,"y":0.0764},{"s":"0,5−1 µm","x":0.0125,"y":0.0858},{"s":"0,5−1 µm","x":0.025,"y":0.0839},{"s":"0,5−1 µm","x":0.0375,"y":0.0877},{"s":"0,5−1 µm","x":0.05,"y":0.0688},{"s":"0,5−1 µm","x":0.0625,"y":0.0443},{"s":"0,5−1 µm","x":0.075,"y":0.0198},{"s":"0,5−1 µm","x":0.0875,"y":0.0122},{"s":"0,5−1 µm","x":0.1,"y":0.005},{"s":"0,5−1 µm","x":0.1125,"y":0.002},{"s":"0,5−1 µm","x":0.125,"y":0.0015},{"s":"0,5−1 µm","x":0.1375,"y":0.003},{"s":"0,5−1 µm","x":0.15,"y":0.005},{"s":"0,5−1 µm","x":0.1625,"y":0.0058},{"s":"0,5−1 µm","x":0.175,"y":0.0045},{"s":"0,5−1 µm","x":0.1875,"y":0.0035},{"s":"0,5−1 µm","x":0.2,"y":0.003},{"s":"0,5−1 µm","x":0.2125,"y":0.0025},{"s":"0,5−1 µm","x":0.225,"y":0.002},{"s":"0,5−1 µm","x":0.2375,"y":0.001},{"s":"0,5−1 µm","x":0.25,"y":0.001},{"s":"0,5−1 µm","x":0.2625,"y":0.0015},{"s":"0,5−1 µm","x":0.275,"y":0.002},{"s":"0,5−1 µm","x":0.2875,"y":0.002},{"s":"0,5−1 µm","x":0.3,"y":0.001},
{"s":"1−3 µm","x":-0.3,"y":0.001},{"s":"1−3 µm","x":-0.2875,"y":0.002},{"s":"1−3 µm","x":-0.275,"y":0.004},{"s":"1−3 µm","x":-0.2625,"y":0.006},{"s":"1−3 µm","x":-0.25,"y":0.007},{"s":"1−3 µm","x":-0.2375,"y":0.0075},{"s":"1−3 µm","x":-0.225,"y":0.006},{"s":"1−3 µm","x":-0.2125,"y":0.004},{"s":"1−3 µm","x":-0.2,"y":0.003},{"s":"1−3 µm","x":-0.1875,"y":0.002},{"s":"1−3 µm","x":-0.175,"y":0.0015},{"s":"1−3 µm","x":-0.1625,"y":0.0015},{"s":"1−3 µm","x":-0.15,"y":0.0015},{"s":"1−3 µm","x":-0.1375,"y":0.0015},{"s":"1−3 µm","x":-0.125,"y":0.002},{"s":"1−3 µm","x":-0.1125,"y":0.003},{"s":"1−3 µm","x":-0.1,"y":0.005},{"s":"1−3 µm","x":-0.0875,"y":0.01},{"s":"1−3 µm","x":-0.075,"y":0.023},{"s":"1−3 µm","x":-0.0625,"y":0.045},{"s":"1−3 µm","x":-0.05,"y":0.06},{"s":"1−3 µm","x":-0.0375,"y":0.074},{"s":"1−3 µm","x":-0.025,"y":0.0795},{"s":"1−3 µm","x":-0.0125,"y":0.076},{"s":"1−3 µm","x":0,"y":0.0795},{"s":"1−3 µm","x":0.0125,"y":0.0738},{"s":"1−3 µm","x":0.025,"y":0.0713},{"s":"1−3 µm","x":0.0375,"y":0.066},{"s":"1−3 µm","x":0.05,"y":0.0594},{"s":"1−3 µm","x":0.0625,"y":0.044},{"s":"1−3 µm","x":0.075,"y":0.028},{"s":"1−3 µm","x":0.0875,"y":0.013},{"s":"1−3 µm","x":0.1,"y":0.008},{"s":"1−3 µm","x":0.1125,"y":0.004},{"s":"1−3 µm","x":0.125,"y":0.003},{"s":"1−3 µm","x":0.1375,"y":0.003},{"s":"1−3 µm","x":0.15,"y":0.003},{"s":"1−3 µm","x":0.1625,"y":0.004},{"s":"1−3 µm","x":0.175,"y":0.003},{"s":"1−3 µm","x":0.1875,"y":0.002},{"s":"1−3 µm","x":0.2,"y":0.002},{"s":"1−3 µm","x":0.2125,"y":0.003},{"s":"1−3 µm","x":0.225,"y":0.003},{"s":"1−3 µm","x":0.2375,"y":0.0053},{"s":"1−3 µm","x":0.25,"y":0.009},{"s":"1−3 µm","x":0.2625,"y":0.011},{"s":"1−3 µm","x":0.275,"y":0.0116},{"s":"1−3 µm","x":0.2875,"y":0.009},{"s":"1−3 µm","x":0.3,"y":0.0047},
{"s":"3−5 µm","x":-0.3,"y":0.0005},{"s":"3−5 µm","x":-0.2875,"y":0.0005},{"s":"3−5 µm","x":-0.275,"y":0.0005},{"s":"3−5 µm","x":-0.2625,"y":0.0005},{"s":"3−5 µm","x":-0.25,"y":0.001},{"s":"3−5 µm","x":-0.2375,"y":0.001},{"s":"3−5 µm","x":-0.225,"y":0.0005},{"s":"3−5 µm","x":-0.2125,"y":0.0005},{"s":"3−5 µm","x":-0.2,"y":0.0005},{"s":"3−5 µm","x":-0.1875,"y":0.0005},{"s":"3−5 µm","x":-0.175,"y":0.001},{"s":"3−5 µm","x":-0.1625,"y":0.001},{"s":"3−5 µm","x":-0.15,"y":0.0005},{"s":"3−5 µm","x":-0.1375,"y":0.001},{"s":"3−5 µm","x":-0.125,"y":0.001},{"s":"3−5 µm","x":-0.1125,"y":0.001},{"s":"3−5 µm","x":-0.1,"y":0.003},{"s":"3−5 µm","x":-0.0875,"y":0.006},{"s":"3−5 µm","x":-0.075,"y":0.0198},{"s":"3−5 µm","x":-0.0625,"y":0.045},{"s":"3−5 µm","x":-0.05,"y":0.0726},{"s":"3−5 µm","x":-0.0375,"y":0.077},{"s":"3−5 µm","x":-0.025,"y":0.067},{"s":"3−5 µm","x":-0.0125,"y":0.0858},{"s":"3−5 µm","x":0,"y":0.09},{"s":"3−5 µm","x":0.0125,"y":0.092},{"s":"3−5 µm","x":0.025,"y":0.0918},{"s":"3−5 µm","x":0.0375,"y":0.0948},{"s":"3−5 µm","x":0.05,"y":0.0913},{"s":"3−5 µm","x":0.0625,"y":0.0735},{"s":"3−5 µm","x":0.075,"y":0.0413},{"s":"3−5 µm","x":0.0875,"y":0.016},{"s":"3−5 µm","x":0.1,"y":0.002},{"s":"3−5 µm","x":0.1125,"y":0.001},{"s":"3−5 µm","x":0.125,"y":0.001},{"s":"3−5 µm","x":0.1375,"y":0.0005},{"s":"3−5 µm","x":0.15,"y":0.0005},{"s":"3−5 µm","x":0.1625,"y":0.0005},{"s":"3−5 µm","x":0.175,"y":0.0005},{"s":"3−5 µm","x":0.1875,"y":0.0005},{"s":"3−5 µm","x":0.2,"y":0.0005},{"s":"3−5 µm","x":0.2125,"y":0.0005},{"s":"3−5 µm","x":0.225,"y":0.0005},{"s":"3−5 µm","x":0.2375,"y":0.0005},{"s":"3−5 µm","x":0.25,"y":0.0005},{"s":"3−5 µm","x":0.2625,"y":0.0005},{"s":"3−5 µm","x":0.275,"y":0.0005},{"s":"3−5 µm","x":0.2875,"y":0.0005},{"s":"3−5 µm","x":0.3,"y":0.0005},
{"s":"5−10 µm","x":-0.3,"y":0.0002},{"s":"5−10 µm","x":-0.2875,"y":0.0002},{"s":"5−10 µm","x":-0.275,"y":0.0002},{"s":"5−10 µm","x":-0.2625,"y":0.0002},{"s":"5−10 µm","x":-0.25,"y":0.0002},{"s":"5−10 µm","x":-0.2375,"y":0.0002},{"s":"5−10 µm","x":-0.225,"y":0.0002},{"s":"5−10 µm","x":-0.2125,"y":0.0002},{"s":"5−10 µm","x":-0.2,"y":0.0002},{"s":"5−10 µm","x":-0.1875,"y":0.0002},{"s":"5−10 µm","x":-0.175,"y":0.0002},{"s":"5−10 µm","x":-0.1625,"y":0.0002},{"s":"5−10 µm","x":-0.15,"y":0.0002},{"s":"5−10 µm","x":-0.1375,"y":0.0002},{"s":"5−10 µm","x":-0.125,"y":0.0002},{"s":"5−10 µm","x":-0.1125,"y":0.0005},{"s":"5−10 µm","x":-0.1,"y":0.002},{"s":"5−10 µm","x":-0.0875,"y":0.005},{"s":"5−10 µm","x":-0.075,"y":0.013},{"s":"5−10 µm","x":-0.0625,"y":0.0349},{"s":"5−10 µm","x":-0.05,"y":0.0543},{"s":"5−10 µm","x":-0.0375,"y":0.0826},{"s":"5−10 µm","x":-0.025,"y":0.0977},{"s":"5−10 µm","x":-0.0125,"y":0.1047},{"s":"5−10 µm","x":0,"y":0.095},{"s":"5−10 µm","x":0.0125,"y":0.082},{"s":"5−10 µm","x":0.025,"y":0.082},{"s":"5−10 µm","x":0.0375,"y":0.08},{"s":"5−10 µm","x":0.05,"y":0.073},{"s":"5−10 µm","x":0.0625,"y":0.0697},{"s":"5−10 µm","x":0.075,"y":0.049},{"s":"5−10 µm","x":0.0875,"y":0.021},{"s":"5−10 µm","x":0.1,"y":0.004},{"s":"5−10 µm","x":0.1125,"y":0.001},{"s":"5−10 µm","x":0.125,"y":0.0003},{"s":"5−10 µm","x":0.1375,"y":0.0002},{"s":"5−10 µm","x":0.15,"y":0.0002},{"s":"5−10 µm","x":0.1625,"y":0.0002},{"s":"5−10 µm","x":0.175,"y":0.0002},{"s":"5−10 µm","x":0.1875,"y":0.0002},{"s":"5−10 µm","x":0.2,"y":0.0002},{"s":"5−10 µm","x":0.2125,"y":0.0002},{"s":"5−10 µm","x":0.225,"y":0.0002},{"s":"5−10 µm","x":0.2375,"y":0.0002},{"s":"5−10 µm","x":0.25,"y":0.0002},{"s":"5−10 µm","x":0.2625,"y":0.0002},{"s":"5−10 µm","x":0.275,"y":0.0002},{"s":"5−10 µm","x":0.2875,"y":0.0002},{"s":"5−10 µm","x":0.3,"y":0.0002}
]
},
"bounds":"flush",
"spacing":147,
"resolve":{"scale":{"stroke":"independent","fill":"independent","shape":"independent","x":"independent","y":"independent"},"legend":{"stroke":"independent","fill":"independent","shape":"independent"}},
"hconcat":[
 {"width":249,"height":318,"data":{"name":"p1"},
  "encoding":{
   "x":{"field":"x","type":"quantitative","scale":{"domain":[-0.3,0.3],"nice":false,"zero":false},"axis":{"title":"Abszolút eltérés [µm]","values":[-0.3,-0.2,-0.1,0,0.1,0.2,0.3],"labelExpr":"replace(replace(format(datum.value,'.1f'),'.',','),'−','-')"}},
   "y":{"field":"y","type":"quantitative","scale":{"domain":[0,0.25],"nice":false},"axis":{"title":"Gyakoriság","values":[0,0.05,0.1,0.15,0.2,0.25],"labelExpr":"replace(format(datum.value,'.2f'),'.',',')"}}
  },
  "layer":[
   {"mark":{"type":"line","strokeWidth":1.5},
    "encoding":{"stroke":{"field":"s","type":"nominal","scale":{"domain":["36-10-11","36-19-21","50-10-11","50-19-21","50-37-41","100-10-11","100-19-21","100-37-41"],"range":["#EE2A2A","#FF8585","#5F8FF0","#2A74A8","#1A1AF5","#1E9A1E","#C8104E","#555555"]}}}},
   {"transform":[{"filter":{"field":"s","equal":"36-10-11"}}],
    "mark":{"type":"point","shape":"M-1.2,0H1.2M0,-1.2V1.2","size":56,"strokeWidth":1,"opacity":1,"filled":false},
    "encoding":{"stroke":{"field":"s","type":"nominal"},"fill":{"field":"s","type":"nominal"}}},
   {"transform":[{"filter":{"field":"s","equal":"36-19-21"}}],
    "mark":{"type":"point","shape":"M-1,-1L1,1M-1,1L1,-1","size":56,"strokeWidth":1,"opacity":1,"filled":false},
    "encoding":{"stroke":{"field":"s","type":"nominal"},"fill":{"field":"s","type":"nominal"}}},
   {"transform":[{"filter":{"field":"s","oneOf":["50-10-11","100-10-11"]}}],
    "mark":{"type":"point","shape":"M1,0C1,0.552,0.552,1,0,1C-0.552,1,-1,0.552,-1,0C-1,-0.552,-0.552,-1,0,-1C0.552,-1,1,-0.552,1,0Z","size":56,"strokeWidth":1,"opacity":1,"filled":false},
    "encoding":{"stroke":{"field":"s","type":"nominal"},"fill":{"field":"s","type":"nominal"}}},
   {"transform":[{"filter":{"field":"s","oneOf":["50-19-21","100-19-21"]}}],
    "mark":{"type":"point","shape":"M0,-1.2L1.15,0.8L-1.15,0.8Z","size":56,"strokeWidth":1,"opacity":1,"filled":false},
    "encoding":{"stroke":{"field":"s","type":"nominal"},"fill":{"field":"s","type":"nominal"}}},
   {"transform":[{"filter":{"field":"s","oneOf":["50-37-41","100-37-41"]}}],
    "mark":{"type":"point","shape":"M0,-1.32L1.32,0L0,1.32L-1.32,0Z","size":56,"strokeWidth":1,"opacity":1,"filled":false},
    "encoding":{"stroke":{"field":"s","type":"nominal"},"fill":{"field":"s","type":"nominal"}}},
   {"mark":{"type":"point","size":161,"strokeWidth":1.3,"opacity":0,"filled":false},
    "encoding":{
     "shape":{"field":"s","type":"nominal","scale":{"domain":["36-10-11","36-19-21","50-10-11","50-19-21","50-37-41","100-10-11","100-19-21","100-37-41"],"range":["M-2.6,0H2.6M-1.2,0H1.2M0,-1.2V1.2","M-2.6,0H2.6M-1,-1L1,1M-1,1L1,-1","M-2.6,0H2.6M1,0C1,0.552,0.552,1,0,1C-0.552,1,-1,0.552,-1,0C-1,-0.552,-0.552,-1,0,-1C0.552,-1,1,-0.552,1,0Z","M-2.6,0H2.6M0,-1.2L1.15,0.8L-1.15,0.8Z","M-2.6,0H2.6M0,-1.32L1.32,0L0,1.32L-1.32,0Z","M-2.6,0H2.6M1,0C1,0.552,0.552,1,0,1C-0.552,1,-1,0.552,-1,0C-1,-0.552,-0.552,-1,0,-1C0.552,-1,1,-0.552,1,0Z","M-2.6,0H2.6M0,-1.2L1.15,0.8L-1.15,0.8Z","M-2.6,0H2.6M0,-1.32L1.32,0L0,1.32L-1.32,0Z"]},
      "legend":{"title":null,"orient":"none","legendX":167,"legendY":-1.7,"labelOffset":16}},
     "stroke":{"field":"s","type":"nominal","legend":{"title":null,"orient":"none","legendX":167,"legendY":-1.7,"labelOffset":16}},
     "fill":{"field":"s","type":"nominal","scale":{"domain":["36-10-11","36-19-21","50-10-11","50-19-21","50-37-41","100-10-11","100-19-21","100-37-41"],"range":["transparent","transparent","transparent","transparent","transparent","#1E9A1E","#C8104E","#555555"]},"legend":{"title":null,"orient":"none","legendX":167,"legendY":-1.7,"labelOffset":16}}
    }}
  ]},
 {"width":257,"height":318,"data":{"name":"p2"},
  "encoding":{
   "x":{"field":"x","type":"quantitative","scale":{"domain":[-0.3,0.3],"nice":false,"zero":false,"range":[0,249]},"axis":{"title":"Abszolút eltérés [µm]","values":[-0.3,-0.2,-0.1,0,0.1,0.2,0.3],"labelExpr":"replace(replace(format(datum.value,'.1f'),'.',','),'−','-')"}},
   "y":{"field":"y","type":"quantitative","scale":{"domain":[0,0.1],"nice":false},"axis":{"title":"Gyakoriság","values":[0,0.02,0.04,0.06,0.08,0.1],"labelExpr":"replace(format(datum.value,'.2f'),'.',',')"}}
  },
  "layer":[
   {"mark":{"type":"line","strokeWidth":1.5},
    "encoding":{"stroke":{"field":"s","type":"nominal","scale":{"domain":["ideális","'5%'","'10%'"],"range":["#000000","#F53D3D","#3366EE"]}}}},
   {"transform":[{"filter":{"field":"s","equal":"'10%'"}}],
    "mark":{"type":"point","shape":"M0,-1.32L1.32,0L0,1.32L-1.32,0Z","size":56,"strokeWidth":1,"opacity":1,"filled":false},
    "encoding":{"stroke":{"field":"s","type":"nominal"},"fill":{"field":"s","type":"nominal"}}},
   {"transform":[{"filter":{"field":"s","equal":"'5%'"}}],
    "mark":{"type":"point","shape":"M0,-1.32L1.32,0L0,1.32L-1.32,0Z","size":56,"strokeWidth":1,"opacity":1,"filled":false},
    "encoding":{"stroke":{"field":"s","type":"nominal"},"fill":{"field":"s","type":"nominal"}}},
   {"transform":[{"filter":{"field":"s","equal":"ideális"}}],
    "mark":{"type":"point","shape":"M1,0C1,0.552,0.552,1,0,1C-0.552,1,-1,0.552,-1,0C-1,-0.552,-0.552,-1,0,-1C0.552,-1,1,-0.552,1,0Z","size":56,"strokeWidth":1,"opacity":1,"filled":false},
    "encoding":{"stroke":{"field":"s","type":"nominal"},"fill":{"field":"s","type":"nominal"}}},
   {"mark":{"type":"point","size":161,"strokeWidth":1.3,"opacity":0,"filled":false},
    "encoding":{
     "shape":{"field":"s","type":"nominal","scale":{"domain":["ideális","'5%'","'10%'"],"range":["M-2.6,0H2.6M1,0C1,0.552,0.552,1,0,1C-0.552,1,-1,0.552,-1,0C-1,-0.552,-0.552,-1,0,-1C0.552,-1,1,-0.552,1,0Z","M-2.6,0H2.6M0,-1.32L1.32,0L0,1.32L-1.32,0Z","M-2.6,0H2.6M0,-1.32L1.32,0L0,1.32L-1.32,0Z"]},
      "legend":{"title":null,"orient":"none","legendX":171,"legendY":31.3,"labelOffset":15.7}},
     "stroke":{"field":"s","type":"nominal","legend":{"title":null,"orient":"none","legendX":171,"legendY":31.3,"labelOffset":15.7}},
     "fill":{"field":"s","type":"nominal","scale":{"domain":["ideális","'5%'","'10%'"],"range":["transparent","#F53D3D","transparent"]},"legend":{"title":null,"orient":"none","legendX":171,"legendY":31.3,"labelOffset":15.7}}
    }}
  ]},
 {"width":249,"height":318,"data":{"name":"p3"},
  "encoding":{
   "x":{"field":"x","type":"quantitative","scale":{"domain":[-0.3,0.3],"nice":false,"zero":false},"axis":{"title":"Abszolút eltérés [µm]","values":[-0.3,-0.2,-0.1,0,0.1,0.2,0.3],"labelExpr":"replace(replace(format(datum.value,'.1f'),'.',','),'−','-')"}},
   "y":{"field":"y","type":"quantitative","scale":{"domain":[0,0.12],"nice":false},"axis":{"title":"Gyakoriság","values":[0,0.02,0.04,0.06,0.08,0.1,0.12],"labelExpr":"replace(format(datum.value,'.2f'),'.',',')"}}
  },
  "layer":[
   {"mark":{"type":"line","strokeWidth":1.5},
    "encoding":{"stroke":{"field":"s","type":"nominal","scale":{"domain":["0,1−0,5 µm","0,5−1 µm","1−3 µm","3−5 µm","5−10 µm"],"range":["#000000","#1A3CFF","#F24B4B","#149614","#22C6D2"]}}}},
   {"transform":[{"filter":{"field":"s","equal":"5−10 µm"}}],
    "mark":{"type":"point","shape":"M0,1.2L1.15,-0.8L-1.15,-0.8Z","size":56,"strokeWidth":1,"opacity":1,"filled":false},
    "encoding":{"stroke":{"field":"s","type":"nominal"},"fill":{"field":"s","type":"nominal"}}},
   {"transform":[{"filter":{"field":"s","equal":"3−5 µm"}}],
    "mark":{"type":"point","shape":"M0,-1.2L1.15,0.8L-1.15,0.8Z","size":56,"strokeWidth":1,"opacity":1,"filled":false},
    "encoding":{"stroke":{"field":"s","type":"nominal"},"fill":{"field":"s","type":"nominal"}}},
   {"transform":[{"filter":{"field":"s","equal":"1−3 µm"}}],
    "mark":{"type":"point","shape":"M0,-1.32L1.32,0L0,1.32L-1.32,0Z","size":56,"strokeWidth":1,"opacity":1,"filled":false},
    "encoding":{"stroke":{"field":"s","type":"nominal"},"fill":{"field":"s","type":"nominal"}}},
   {"transform":[{"filter":{"field":"s","oneOf":["0,5−1 µm","0,1−0,5 µm"]}}],
    "mark":{"type":"point","shape":"M1,0C1,0.552,0.552,1,0,1C-0.552,1,-1,0.552,-1,0C-1,-0.552,-0.552,-1,0,-1C0.552,-1,1,-0.552,1,0Z","size":56,"strokeWidth":1,"opacity":1,"filled":false},
    "encoding":{"stroke":{"field":"s","type":"nominal"},"fill":{"field":"s","type":"nominal"}}},
   {"mark":{"type":"point","size":161,"strokeWidth":1.3,"opacity":0,"filled":false},
    "encoding":{
     "shape":{"field":"s","type":"nominal","scale":{"domain":["0,1−0,5 µm","0,5−1 µm","1−3 µm","3−5 µm","5−10 µm"],"range":["M-2.6,0H2.6M1,0C1,0.552,0.552,1,0,1C-0.552,1,-1,0.552,-1,0C-1,-0.552,-0.552,-1,0,-1C0.552,-1,1,-0.552,1,0Z","M-2.6,0H2.6M1,0C1,0.552,0.552,1,0,1C-0.552,1,-1,0.552,-1,0C-1,-0.552,-0.552,-1,0,-1C0.552,-1,1,-0.552,1,0Z","M-2.6,0H2.6M0,-1.32L1.32,0L0,1.32L-1.32,0Z","M-2.6,0H2.6M0,-1.2L1.15,0.8L-1.15,0.8Z","M-2.6,0H2.6M0,1.2L1.15,-0.8L-1.15,-0.8Z"]},
      "legend":{"title":null,"orient":"none","legendX":165.5,"legendY":22.3,"labelOffset":15.5}},
     "stroke":{"field":"s","type":"nominal","legend":{"title":null,"orient":"none","legendX":165.5,"legendY":22.3,"labelOffset":15.5}},
     "fill":{"field":"s","type":"nominal","scale":{"domain":["0,1−0,5 µm","0,5−1 µm","1−3 µm","3−5 µm","5−10 µm"],"range":["transparent","#1A3CFF","transparent","#149614","transparent"]},"legend":{"title":null,"orient":"none","legendX":165.5,"legendY":22.3,"labelOffset":15.5}}
    }}
  ]}
]
}
